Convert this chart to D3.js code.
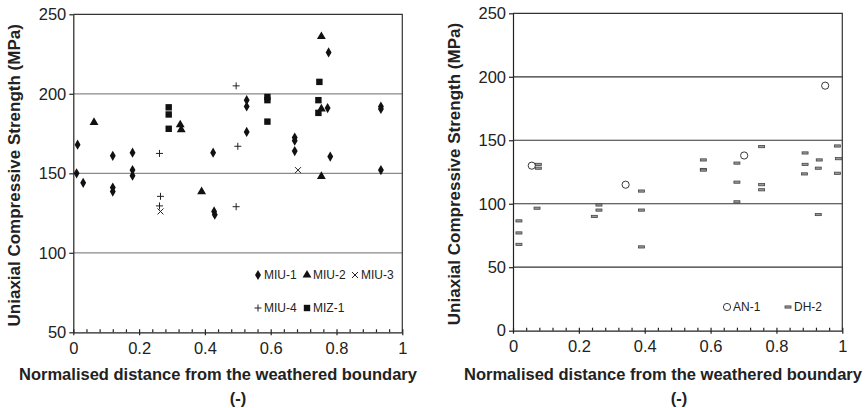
<!DOCTYPE html>
<html>
<head>
<meta charset="utf-8">
<script src="https://cdn.jsdelivr.net/npm/d3@7"></script>
<style>
  body { margin: 0; background: #fff; }
  svg { font-family: "Liberation Sans", Arial, sans-serif; }
</style>
</head>
<body>
<svg width="868" height="408"></svg>
<script>
// DATA  [normalised distance, UCS MPa]
const xMajorTicks = [0, 0.2, 0.4, 0.6, 0.8, 1];
const leftYTicks = [50, 100, 150, 200, 250];
const rightYTicks = [0, 50, 100, 150, 200, 250];

const miu1 = [[0.013,168],[0.01,150],[0.03,144],[0.12,161],[0.12,141],[0.12,138.5],
  [0.18,163],[0.18,152],[0.18,148.5],[0.425,163],[0.428,126],[0.43,124],
  [0.527,196],[0.527,192],[0.527,176],[0.673,172.5],[0.673,170.5],[0.673,164],
  [0.773,191],[0.776,226],[0.781,160.5],[0.935,192],[0.935,190.5],[0.935,152]];
const miu2 = [[0.063,182],[0.325,180.5],[0.328,177.5],[0.39,138.5],[0.754,236],[0.754,190.5],[0.754,148]];
const miu3 = [[0.265,126],[0.683,152]];
const miu4 = [[0.262,162.5],[0.265,135.5],[0.262,129.5],[0.495,205],[0.5,167],[0.495,129]];
const miz1 = [[0.29,191.5],[0.29,187],[0.29,178],[0.59,198],[0.59,196],[0.59,182.5],
  [0.748,207.5],[0.745,196],[0.745,188]];

const an1 = [[0.057,130],[0.342,115],[0.702,138],[0.948,193]];
const dh2 = [[0.018,86.5],[0.018,77],[0.018,68],[0.073,96.5],[0.077,131],[0.077,128],
  [0.247,90],[0.261,99],[0.261,95],[0.39,110],[0.39,95],[0.39,66],
  [0.578,134.5],[0.578,127],[0.578,126.5],[0.68,132],[0.68,117],[0.68,101.5],
  [0.755,145],[0.755,115],[0.755,111],[0.887,140],[0.887,131],[0.885,123.5],
  [0.93,134.5],[0.927,128],[0.927,91.5],[0.985,145.5],[0.988,135.5],[0.985,124]];

const yTitle = 'Uniaxial Compressive Strength (MPa)';
const xTitle = 'Normalised distance from the weathered boundary';

const svg = d3.select('svg');

// marker painters
const sym = (type, size) => d3.symbol().type(type).size(size)();
const markers = {
  diamond: g => g.append('path').attr('d', sym(d3.symbolDiamond, 30)).attr('fill', '#111'),
  triangle: g => g.append('path').attr('d', sym(d3.symbolTriangle, 34)).attr('fill', '#111'),
  square: g => g.append('rect').attr('x', -3.2).attr('y', -3.2).attr('width', 6.4).attr('height', 6.4).attr('fill', '#111'),
  plus: g => g.append('path').attr('d', 'M-3.5,0H3.5M0,-3.5V3.5').attr('stroke', '#222').attr('stroke-width', 1),
  cross: g => g.append('path').attr('d', 'M-3,-3L3,3M-3,3L3,-3').attr('stroke', '#222').attr('stroke-width', 1),
  circle: g => g.append('circle').attr('r', 3.6).attr('fill', '#fff').attr('stroke', '#222').attr('stroke-width', 0.9),
  dash: g => g.append('rect').attr('x', -3).attr('y', -1.1).attr('width', 6).attr('height', 2.2)
              .attr('fill', '#999').attr('stroke', '#444').attr('stroke-width', 0.8)
};

const buildPanel = cfg => {
  const x = d3.scaleLinear().domain([0, 1]).range([cfg.x0, cfg.x1]);
  const y = d3.scaleLinear().domain(cfg.yDomain).range([cfg.y0, cfg.y1]);
  const g = svg.append('g');

  // grid
  g.selectAll('line.grid')
    .data(cfg.yTicks.slice(1, -1))
    .enter().append('line')
    .attr('x1', cfg.x0).attr('x2', cfg.x1)
    .attr('y1', d => y(d)).attr('y2', d => y(d))
    .attr('stroke', cfg.gridColor).attr('stroke-width', 1.2);

  // top + right border
  g.append('path')
    .attr('d', `M${cfg.x0},${y(cfg.yDomain[1])}H${cfg.x1}V${cfg.y0}`)
    .attr('fill', 'none').attr('stroke', '#333').attr('stroke-width', 1.2);

  // y axis
  g.append('g')
    .attr('transform', `translate(${cfg.x0},0)`)
    .call(d3.axisLeft(y).tickValues(cfg.yTicks).tickSize(4).tickSizeOuter(0).tickPadding(3));
  // x axis: majors crossing, minors inside
  g.append('g')
    .attr('transform', `translate(0,${cfg.y0})`)
    .call(d3.axisBottom(x).tickValues(xMajorTicks).tickFormat(d3.format('~g'))
      .tickSize(3).tickSizeOuter(0).tickPadding(7));
  g.append('g')
    .attr('transform', `translate(0,${cfg.y0})`)
    .call(d3.axisBottom(x).tickValues(d3.range(0, 1.0001, 0.04)).tickFormat('')
      .tickSize(-3).tickSizeOuter(0))
    .select('.domain').remove();

  g.selectAll('.domain, .tick line').attr('stroke', '#222').attr('stroke-width', 1.2);
  g.selectAll('.tick text').attr('font-size', 16.5).attr('fill', '#222')
    .attr('font-family', '"Liberation Sans", Arial, sans-serif');

  // points
  cfg.series.forEach(s => {
    s.data.forEach(d => {
      const m = g.append('g').attr('transform', `translate(${x(d[0])},${y(d[1])})`);
      markers[s.marker](m);
    });
  });

  // legend
  cfg.legend.forEach(l => {
    const m = g.append('g').attr('transform', `translate(${l.x},${l.y})`);
    markers[l.marker](m);
    g.append('text').attr('x', l.x + 6).attr('y', l.y).attr('dy', '0.35em')
      .attr('font-size', 12).attr('fill', '#222').text(l.label);
  });

  // titles
  g.append('text')
    .attr('transform', `translate(${cfg.yTitleX},${(cfg.y0 + cfg.y1) / 2 + 2}) rotate(-90)`)
    .attr('text-anchor', 'middle').attr('dy', '0.35em')
    .attr('font-size', 17).attr('font-weight', 'bold').attr('fill', '#222')
    .text(yTitle);
  g.append('text')
    .attr('x', cfg.xTitleX).attr('y', 380)
    .attr('text-anchor', 'middle')
    .attr('font-size', 16.5).attr('font-weight', 'bold').attr('fill', '#222')
    .text(xTitle);
  g.append('text')
    .attr('x', cfg.xTitle2X).attr('y', 404)
    .attr('text-anchor', 'middle')
    .attr('font-size', 16.5).attr('font-weight', 'bold').attr('fill', '#222')
    .text('(-)');
};

buildPanel({
  x0: 73.3, x1: 402.3, y0: 332.3, y1: 14.3,
  yDomain: [50, 250], yTicks: leftYTicks, gridColor: '#8a8a8a',
  yTitleX: 14, xTitleX: 218, xTitle2X: 238,
  series: [
    {data: miu1, marker: 'diamond'},
    {data: miu2, marker: 'triangle'},
    {data: miu3, marker: 'cross'},
    {data: miu4, marker: 'plus'},
    {data: miz1, marker: 'square'}
  ],
  legend: [
    {x: 258, y: 275, marker: 'diamond', label: 'MIU-1'},
    {x: 307, y: 275, marker: 'triangle', label: 'MIU-2'},
    {x: 355, y: 275, marker: 'cross', label: 'MIU-3'},
    {x: 258, y: 308, marker: 'plus', label: 'MIU-4'},
    {x: 307, y: 308, marker: 'square', label: 'MIZ-1'}
  ]
});

buildPanel({
  x0: 513, x1: 842.3, y0: 330.7, y1: 13.3,
  yDomain: [0, 250], yTicks: rightYTicks, gridColor: '#333',
  yTitleX: 454, xTitleX: 663, xTitle2X: 679,
  series: [
    {data: dh2, marker: 'dash'},
    {data: an1, marker: 'circle'}
  ],
  legend: [
    {x: 727, y: 307, marker: 'circle', label: 'AN-1'},
    {x: 788, y: 307, marker: 'dash', label: 'DH-2'}
  ]
});
</script>
</body>
</html>
